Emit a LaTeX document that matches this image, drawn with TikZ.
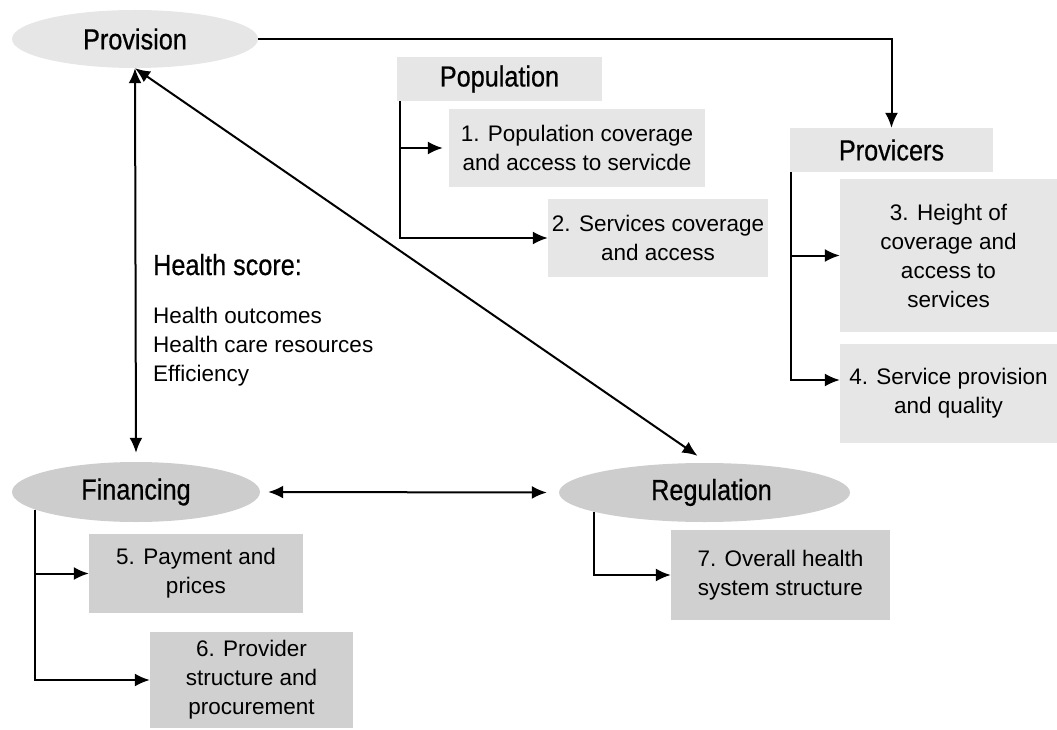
\documentclass[tikz,border=0pt]{standalone}
\usepackage{fontspec}
\setmainfont{Liberation Sans}
\newfontfamily\titlefont{Liberation Sans}[FakeStretch=0.87,FakeBold=0.6]
\usetikzlibrary{shapes.geometric,arrows.meta,calc}
\definecolor{lightbox}{HTML}{E6E6E6}
\definecolor{darkbox}{HTML}{D0D0D0}
\definecolor{darkell}{HTML}{CDCDCD}
\begin{document}
\begin{tikzpicture}[x=1pt,y=-1pt,
  ell/.style={ellipse, inner sep=0pt, font=\titlefont\fontsize{29}{34}\selectfont},
  ttl/.style={rectangle, inner sep=0pt, fill=lightbox, font=\titlefont\fontsize{29}{34}\selectfont},
  box/.style={rectangle, inner sep=0pt, align=center, font=\fontsize{22.5}{29}\selectfont},
  txt/.style={inner sep=0pt, anchor=base west, font=\fontsize{22.5}{29}\selectfont},
  arr/.style={line width=2pt, -{Latex[length=15pt,width=13pt]}},
  darr/.style={line width=2pt, {Latex[length=15pt,width=13pt]}-{Latex[length=15pt,width=13pt]}}]
\useasboundingbox (0,0) rectangle (1057,730);

% ellipses
\node[ell, fill=lightbox, minimum width=246pt, minimum height=58pt] (provision) at (135,39) {Provision};
\node[ell, fill=darkell, minimum width=248pt, minimum height=60pt] (financing) at (136,492) {Financing};
\node[ell, fill=darkell, minimum width=291pt, minimum height=59pt] (regulation) at (704.5,492.5) {\hspace{14pt}Regulation};

% title boxes
\node[ttl, minimum width=205pt, minimum height=44pt] (pop) at (499.5,79) {Population};
\node[ttl, minimum width=203pt, minimum height=44pt] (prov) at (891.5,150) {Provicers};

% numbered boxes
\node[box, fill=lightbox, minimum width=256pt, minimum height=78pt] (b1) at (577,148) {1. Population coverage\\and access to servicde};
\node[box, fill=lightbox, minimum width=220pt, minimum height=78pt] (b2) at (658,238) {2. Services coverage\\and access};
\node[box, fill=lightbox, minimum width=217pt, minimum height=153pt] (b3) at (948.5,255.5) {3. Height of\\coverage and\\access to\\services};
\node[box, fill=lightbox, minimum width=217pt, minimum height=99pt] (b4) at (948.5,393.5) {4. Service provision\\and quality};
\node[box, fill=darkbox, minimum width=214pt, minimum height=79pt] (b5) at (196,573.5) {5. Payment and\\prices};
\node[box, fill=darkbox, minimum width=203pt, minimum height=96pt] (b6) at (251.5,680) {6. Provider\\structure and\\procurement};
\node[box, fill=darkbox, minimum width=219pt, minimum height=90pt] (b7) at (780.5,575) {7. Overall health\\system structure};

% health score text
\node[inner sep=0pt, anchor=base west, font=\titlefont\fontsize{29}{34}\selectfont] (hs) at (153,275) {Health score:};
\node[txt] (hs1) at (153,323) {Health outcomes};
\node[txt] (hs2) at (153,352) {Health care resources};
\node[txt] (hs3) at (153,381) {Efficiency};

% connectors
\draw[arr] (provision.east) -| (prov.north);
\draw[arr, shorten >=6pt] ([xshift=3pt]pop.south west) |- (b1.west);
\draw[arr] ([xshift=3pt]pop.south west) |- (b2.west);
\draw[arr] ([xshift=1pt]prov.south west) |- (b3.west);
\draw[arr] ([xshift=1pt]prov.south west) |- ([yshift=13.5pt]b4.west);
\draw[arr] (financing.190.6) |- (b5.west);
\draw[arr] (financing.190.6) |- (b6.west);
\draw[arr] (regulation.190.9) |- (b7.west);

\draw[darr, shorten >=9pt] (provision.south) -- (financing.north);
\draw[darr] (provision.south) -- ([xshift=-7pt,yshift=7pt]regulation.north);
\draw[darr, shorten <=8pt, shorten >=12pt] (financing.east) -- (regulation.west);
\end{tikzpicture}
\end{document}
